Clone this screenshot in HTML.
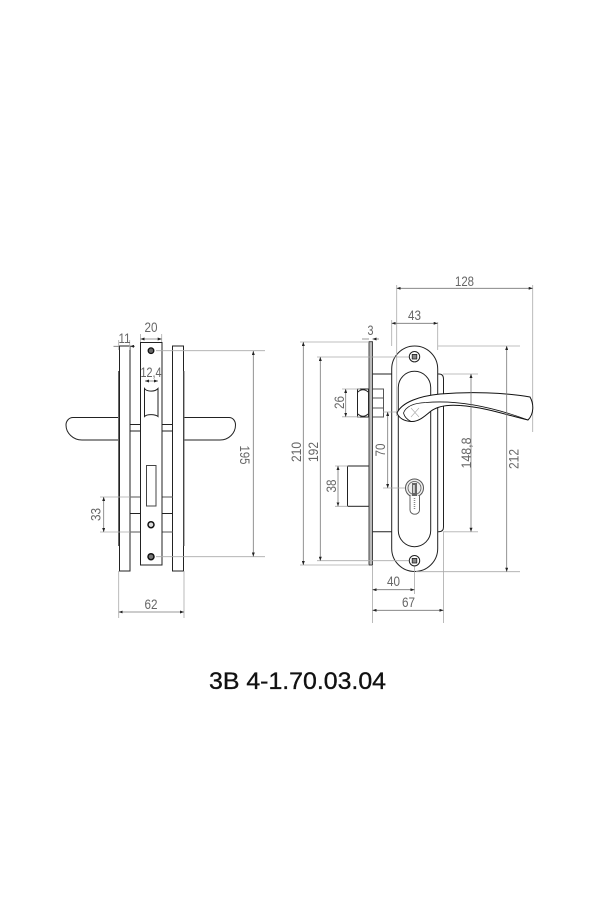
<!DOCTYPE html>
<html><head><meta charset="utf-8"><style>
html,body{margin:0;padding:0;background:#fff}svg{display:block}
text{font-family:"Liberation Sans",sans-serif}
.d{font-size:14px;fill:#666;text-anchor:middle}
.o{fill:#fff;stroke:#222;stroke-width:1}
.n{fill:none;stroke:#222;stroke-width:1}
.g{fill:none;stroke:#aaa;stroke-width:.8}
.a{fill:none;stroke:#777;stroke-width:.8;marker-start:url(#m);marker-end:url(#m)}
</style></head><body>
<svg width="600" height="900" viewBox="0 0 600 900" xmlns="http://www.w3.org/2000/svg">
<defs><marker id="m" viewBox="0 0 8 6" refX="8" refY="3" markerWidth="4" markerHeight="3" markerUnits="userSpaceOnUse" orient="auto-start-reverse"><path d="M0 0L8 3L0 6z" fill="#222"/></marker></defs>

<!-- LEFT VIEW -->
<path class="o" d="M119 417.500H73C69 417.500 66 421 66 425C66 433 73 440 82 440H119z"/>
<path class="o" d="M183 417.500H229C233 417.500 235.500 421 235.500 425C235.500 433 229 440 220 440H183z"/>
<rect class="o" x="119.500" y="346" width="10.500" height="225"/>
<rect class="o" x="172.500" y="346" width="11" height="225"/>
<path d="M118.500 371V546M184 371V546" fill="none" stroke="#666" stroke-width="1"/>
<path class="n" d="M130 424.500H140.500M130 431H140.500M161.500 424.500H172.500M161.500 431H172.500M130 513.500H140.500M161.500 513.500H172.500"/>
<path d="M130 497H140.500M161.500 497H172.500M130 532H140.500M161.500 532H172.500" fill="none" stroke="#777" stroke-width="1.300"/>
<rect class="o" x="140.500" y="342.500" width="21.500" height="222.500"/>
<path class="n" d="M144.500 388.500C147 392 155 392 158 388.500V416.500C155 414 147 414 144.500 416.500z"/>
<path d="M146.500 465.500V506H156V465.500z" fill="none" stroke="#444" stroke-width="1"/>
<circle cx="151" cy="350.700" r="2.800" fill="#666" stroke="#111" stroke-width="1.300"/>
<circle cx="151" cy="524.700" r="3" fill="#ddd" stroke="#111" stroke-width="1.500"/>
<circle cx="151" cy="556.700" r="3" fill="#777" stroke="#111" stroke-width="1.500"/>
<path class="g" d="M156 350.700H265M156 556.700H265M100 497H130M100 532H130M118.700 571V618M184 571V618M118.700 340V350M129.700 340V350M140.500 334V342M161.700 334V342"/>
<path class="a" d="M253.300 351V556.500"/>
<path class="a" d="M103.700 497V532"/>
<path class="a" d="M118.700 612H184"/>
<path class="a" d="M113.500 346.300H118.800M135 346.300H130" style="marker-start:none"/>
<path class="a" d="M140.500 339H161.700"/>
<path class="a" d="M145 381H158"/>
<text class="d" x="124.500" y="343" textLength="12" lengthAdjust="spacingAndGlyphs">11</text>
<text class="d" x="151" y="332" textLength="13" lengthAdjust="spacingAndGlyphs">20</text>
<text class="d" x="151" y="377" textLength="21" lengthAdjust="spacingAndGlyphs">12,4</text>
<text class="d" x="151" y="609" textLength="13" lengthAdjust="spacingAndGlyphs">62</text>
<text class="d" transform="translate(100.500,514.500) rotate(-90)" textLength="13" lengthAdjust="spacingAndGlyphs">33</text>
<text class="d" transform="translate(240,455) rotate(90)" textLength="19" lengthAdjust="spacingAndGlyphs">195</text>

<!-- RIGHT VIEW -->
<rect class="o" x="347.500" y="466" width="21.500" height="40.300"/>
<rect x="357.500" y="389" width="11" height="28" fill="#fff" stroke="#222"/>
<path d="M358 392C361 389 365 389 368 392M358 414C361 417 365 417 368 414" fill="none" stroke="#222"/>
<path d="M372.500 389H383.500V417H372.500M372.500 398H383.500M372.500 408H383.500" fill="none" stroke="#555" stroke-width="1"/>
<rect x="369" y="341.700" width="3.500" height="223.300" fill="#bbb" stroke="#333" stroke-width=".9"/>
<path class="n" d="M372.500 374H439Q443.500 374 443.500 379V527Q443.500 531.700 439 531.700H372.500"/>
<path class="o" d="M391.700 369A23 23 0 0 1 437.700 369V548.500A23 23 0 0 1 391.700 548.500z"/>
<path class="n" d="M398.300 387.500A16.200 16.200 0 0 1 430.700 387.500V530.500A16.200 16.200 0 0 1 398.300 530.500z"/>
<path class="g" d="M300 342H369M317 357H410M300 565H369M317 560.700H410M342 389H360M342 416.800H360M335 466H348M335 506.300H348M383 412H405M383 488H412M372.500 565V623M443.500 532V623M414.500 566V594M391.700 320V346M437.700 322V350M396.700 285V416M532.700 285V432M438 346H520M416 571.700H520M443 374H478M443 531.700H478" />
<path d="M443 531.700H478" stroke="#ccc" stroke-width="1.200" fill="none"/>
<circle cx="414.500" cy="356.700" r="5.200" class="o"/><rect x="412.200" y="354.400" width="4.600" height="4.600" fill="#888" stroke="#222" stroke-width=".8"/>
<circle cx="414.500" cy="560.700" r="5.200" class="o"/><rect x="412.200" y="558.400" width="4.600" height="4.600" fill="#888" stroke="#222" stroke-width=".8"/>
<!-- cylinder -->
<circle cx="414.500" cy="488" r="9" fill="#eee" stroke="#555"/>
<circle cx="414.500" cy="488" r="6.500" fill="none" stroke="#555" stroke-width=".8"/>
<path d="M410 496V510A4.500 4 0 0 0 419.500 510V496" fill="#fff" stroke="#555" stroke-width=".9"/>
<rect x="412" y="483" width="5" height="13" fill="#666"/><rect x="413.300" y="485" width="1.300" height="8" fill="#fff"/>
<path d="M414.500 498V509" stroke="#888" stroke-width="1.500" stroke-dasharray="1 1"/>
<!-- lever -->
<path d="M397 413C402 402 420 396 440 394C470 391.500 505 392.500 530 397C534 404 534 414 528 420C510 416 485 407 460 405.500C448 404.500 438 406 431 411C424 417 418 422 411 421.500C404 421 399 418 397 413z" fill="#fff" stroke="#111" stroke-width="1"/>
<path d="M403.500 413C406 406 414 403 426 402.500C455 400 490 406 528 420M403.500 413C404.500 417 407 419.500 411 421.500" fill="none" stroke="#111" stroke-width=".8"/>
<path d="M411 408L419 417M411 417L419 408" stroke="#aaa" stroke-width=".6" fill="none"/>
<path class="a" d="M396.700 288.300H532.700"/>
<path class="a" d="M391.700 323.300H437.700"/>
<path class="a" d="M362 339H369M379 339H372.500" style="marker-start:none"/>
<path class="a" d="M303.300 342V565"/>
<path class="a" d="M320.300 357V560.700"/>
<path class="a" d="M345.700 389V416.800"/>
<path class="a" d="M338 466V506.300"/>
<path class="a" d="M387.700 412V488"/>
<path class="a" d="M471 374V531.700"/>
<path class="a" d="M506.700 346V571.700"/>
<path class="a" d="M372.500 589.700H414.500"/>
<path class="a" d="M372.500 610.300H443.500"/>
<text class="d" x="464.500" y="286" textLength="19" lengthAdjust="spacingAndGlyphs">128</text>
<text class="d" x="414.500" y="320" textLength="13" lengthAdjust="spacingAndGlyphs">43</text>
<text class="d" x="370.500" y="335" textLength="6" lengthAdjust="spacingAndGlyphs">3</text>
<text class="d" transform="translate(301,452) rotate(-90)" textLength="20" lengthAdjust="spacingAndGlyphs">210</text>
<text class="d" transform="translate(318,452) rotate(-90)" textLength="20" lengthAdjust="spacingAndGlyphs">192</text>
<text class="d" transform="translate(344,402.500) rotate(-90)" textLength="13" lengthAdjust="spacingAndGlyphs">26</text>
<text class="d" transform="translate(336,486) rotate(-90)" textLength="13" lengthAdjust="spacingAndGlyphs">38</text>
<text class="d" transform="translate(385,450) rotate(-90)" textLength="13" lengthAdjust="spacingAndGlyphs">70</text>
<text class="d" transform="translate(471,453) rotate(-90)" textLength="31" lengthAdjust="spacingAndGlyphs">148,8</text>
<text class="d" transform="translate(518.500,459) rotate(-90)" textLength="20" lengthAdjust="spacingAndGlyphs">212</text>
<text class="d" x="393.500" y="586" textLength="13" lengthAdjust="spacingAndGlyphs">40</text>
<text class="d" x="408.500" y="607" textLength="13" lengthAdjust="spacingAndGlyphs">67</text>

<text x="209" y="689" font-size="24" fill="#111" stroke="#111" stroke-width=".35" textLength="177" lengthAdjust="spacingAndGlyphs">3В 4-1.70.03.04</text>
</svg>
</body></html>
